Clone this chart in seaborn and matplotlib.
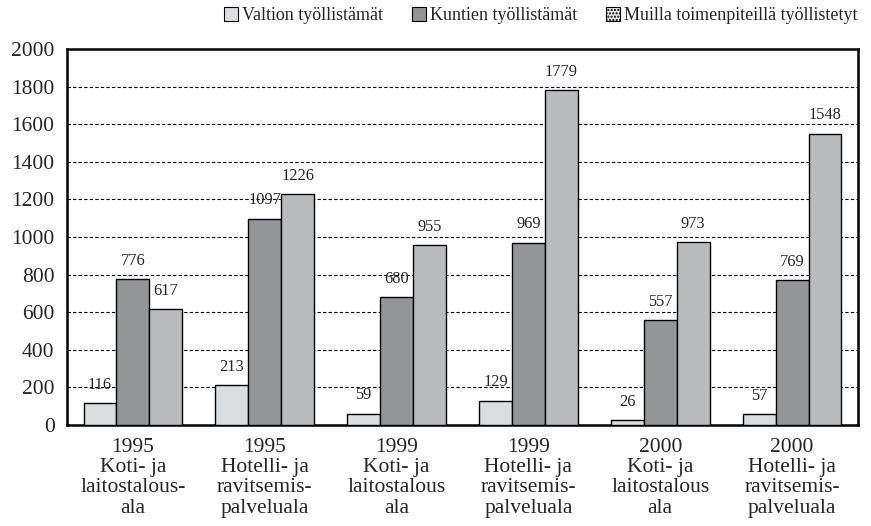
import pandas as pd
import matplotlib.pyplot as plt
import seaborn as sns

categories = [
    "1995\nKoti- ja\nlaitostalous-\nala",
    "1995\nHotelli- ja\nravitsemis-\npalveluala",
    "1999\nKoti- ja\nlaitostalous\nala",
    "1999\nHotelli- ja\nravitsemis-\npalveluala",
    "2000\nKoti- ja\nlaitostalous\nala",
    "2000\nHotelli- ja\nravitsemis-\npalveluala",
]
series = ["Valtion työllistämät", "Kuntien työllistämät", "Muilla toimenpiteillä työllistetyt"]
valtion = [116, 213, 59, 129, 26, 57]
kuntien = [776, 1097, 680, 969, 557, 769]
muilla = [617, 1226, 955, 1779, 973, 1548]
yticks = [0, 200, 400, 600, 800, 1000, 1200, 1400, 1600, 1800, 2000]

rows = []
for name, vals in zip(series, [valtion, kuntien, muilla]):
    for cat, v in zip(categories, vals):
        rows.append({"cat": cat, "series": name, "value": v})
data = pd.DataFrame(rows)

sns.set_style("white")
plt.rcParams['font.family'] = ['Liberation Serif', 'DejaVu Serif']
plt.rcParams['hatch.color'] = "#888888"

fig = plt.figure(figsize=(8.71, 5.26), dpi=100)
ax = fig.add_axes([0.077, 0.192, 0.908, 0.715])

colors = ["#dcdddf", "#949597", "#babbbd"]
sns.barplot(data=data, x="cat", y="value", hue="series", palette=colors,
            saturation=1, width=0.75, edgecolor="black", linewidth=1,
            legend=False, ax=ax, zorder=3)

for c in ax.containers:
    ax.bar_label(c, fmt="%d", padding=7.5, fontsize=11.8)

ax.set_ylim(0, 2000)
ax.set_yticks(yticks)
ax.set_xlim(-0.5, 5.5)
ax.tick_params(axis="both", length=0, labelsize=15.5, pad=9)
for lab in ax.get_xticklabels():
    lab.set_linespacing(1.1)
ax.set_xlabel("")
ax.set_ylabel("")
for y in yticks[1:-1]:
    ax.axhline(y, color="black", linestyle=(0, (3, 2)), linewidth=0.8, zorder=1)
for s in ax.spines.values():
    s.set_linewidth(1.8)
    s.set_color("black")

handles = [plt.Rectangle((0, 0), 1, 1, facecolor=colors[0], edgecolor="black", linewidth=0.8),
           plt.Rectangle((0, 0), 1, 1, facecolor=colors[1], edgecolor="black", linewidth=0.8),
           plt.Rectangle((0, 0), 1, 1, facecolor="#e6e6e6", edgecolor="black", linewidth=0.8, hatch=".....")]
fig.legend(handles, series, loc="upper right", bbox_to_anchor=(1.003, 1.018), ncol=3,
           frameon=False, fontsize=13, handlelength=0.8, handleheight=0.8,
           handletextpad=0.2, columnspacing=1.6)

fig.savefig("out.png", dpi=100)
